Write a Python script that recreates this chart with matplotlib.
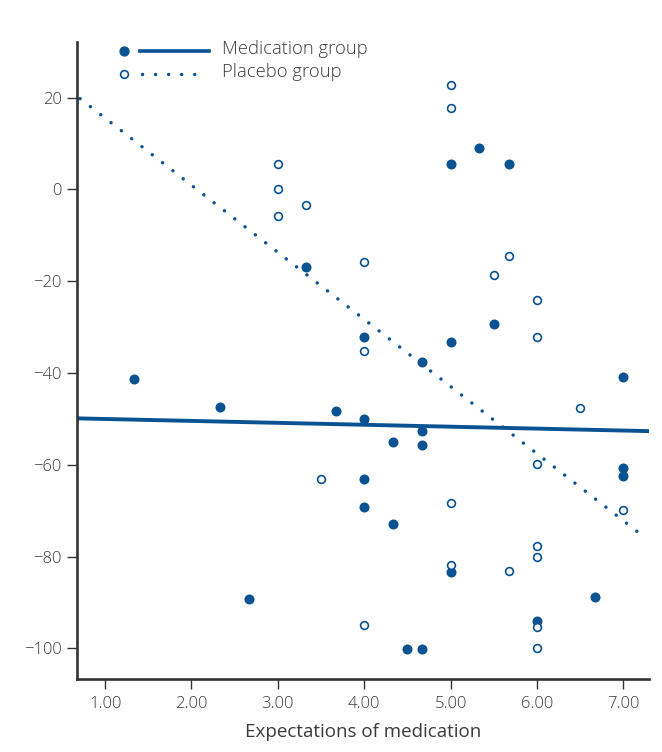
import matplotlib
matplotlib.use("Agg")
import matplotlib.pyplot as plt
from matplotlib.lines import Line2D
import numpy as np

# medication group (filled circles)
med_x = [1.33, 2.33, 2.67, 3.33, 3.67, 4.00, 4.00, 4.00, 4.00, 4.33, 4.33, 4.50, 4.67, 4.67,
         4.67, 4.67, 5.00, 5.00, 5.00, 5.33, 5.50, 5.67, 6.00, 6.67, 7.00, 7.00, 7.00]
med_y = [-41.3, -47.4, -89.3, -17.0, -48.2, -32.2, -50.1, -63.2, -69.3, -55.1, -72.8, -100.1, -37.6, -52.7,
         -55.6, -100.1, 5.6, -33.3, -83.3, 9.1, -29.3, 5.6, -94.1, -88.9, -40.8, -60.8, -62.5]

# placebo group (open circles)
pla_x = [3.00, 3.00, 3.00, 3.33, 3.50, 4.00, 4.00, 4.00, 5.00, 5.00, 5.00, 5.00,
         5.50, 5.67, 5.67, 6.00, 6.00, 6.00, 6.00, 6.00, 6.00, 6.00, 6.50, 7.00]
pla_y = [5.6, 0.1, -5.8, -3.3, -63.0, -15.8, -35.1, -94.9, 22.7, 17.8, -68.3, -81.9,
         -18.7, -14.6, -83.2, -24.1, -32.1, -59.8, -77.6, -80.0, -95.4, -99.9, -47.7, -69.9]

# fitted regression lines: intercept, slope, x range
med_fit = (-49.6, -0.42)
med_range = (0.672, 7.296)
pla_fit = (30.2, -14.63)
pla_range = (0.711, 7.19)

xticks = [1, 2, 3, 4, 5, 6, 7]
yticks = [20, 0, -20, -40, -60, -80, -100]
labels = ["Medication group", "Placebo group"]

blue = "#0a5291"
grey = "#3a3a3a"
plt.rcParams['font.family'] = ['Open Sans', 'DejaVu Sans']
plt.rcParams['font.weight'] = 'light'

dots = (0, (0.01, 3.75))

fig = plt.figure(figsize=(6.62, 7.52), dpi=100)
ax = fig.add_axes([0.1159, 0.0967, 0.8645, 0.8478])

xs = np.array(med_range)
ax.plot(xs, med_fit[0] + med_fit[1] * xs, color=blue, lw=2.8, solid_capstyle='butt', zorder=2)
xs = np.array(pla_range)
ax.plot(xs, pla_fit[0] + pla_fit[1] * xs, color=blue, lw=2.5, linestyle=dots,
        dash_capstyle='round', zorder=2)

ax.plot(med_x, med_y, 'o', ms=6.2, color=blue, mec=blue, ls='none', zorder=3)
ax.plot(pla_x, pla_y, 'o', ms=5.6, mfc='white', mec=blue, mew=1.2, ls='none', zorder=3)

ax.set_xlim(0.672, 7.296)
ax.set_ylim(-106.75, 32.2)
ax.set_xticks(xticks)
ax.set_xticklabels(["%.2f" % t for t in xticks])
ax.set_yticks(yticks)

for s in ['top', 'right']:
    ax.spines[s].set_visible(False)
for s in ['left', 'bottom']:
    ax.spines[s].set_linewidth(1.9)
    ax.spines[s].set_color('#333333')
ax.tick_params(direction='out', length=7, width=1.0, color='#333333',
               labelsize=12, labelcolor=grey)
ax.tick_params(axis='y', pad=4)
ax.tick_params(axis='x', pad=5)
ax.set_xlabel("Expectations of medication", fontsize=13.5, color=grey, labelpad=8)

# legend drawn by hand: marker, line sample, text
ax.add_line(Line2D([0.0832], [0.9854], marker='o', ms=6.4, color=blue, ls='none',
                   transform=ax.transAxes, clip_on=False))
ax.add_line(Line2D([0.1106, 0.2315], [0.9854, 0.9854], color=blue, lw=2.6,
                   transform=ax.transAxes, clip_on=False))
ax.add_line(Line2D([0.0832], [0.9489], marker='o', ms=5.6, mfc='white', mec=blue, mew=1.2,
                   ls='none', transform=ax.transAxes, clip_on=False))
ax.add_line(Line2D([0.1136, 0.2224], [0.9489, 0.9489], color=blue, lw=2.5,
                   linestyle=dots, dash_capstyle='round',
                   transform=ax.transAxes, clip_on=False))
ax.text(0.2544, 0.9802, labels[0], transform=ax.transAxes, fontsize=13.2, color=grey, va='baseline')
ax.text(0.2544, 0.9448, labels[1], transform=ax.transAxes, fontsize=13.2, color=grey, va='baseline')

fig.savefig("out.png", dpi=100)
